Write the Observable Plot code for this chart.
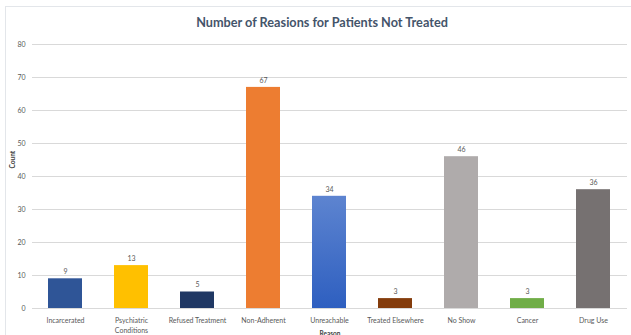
<!DOCTYPE html>
<html>
<head>
<meta charset="utf-8">
<script src="https://cdn.jsdelivr.net/npm/d3@7"></script>
<script src="https://cdn.jsdelivr.net/npm/@observablehq/plot@0.6"></script>
<style>
  body { margin: 0; background: #fff; }
  #wrap { position: relative; width: 631px; height: 335px; overflow: hidden; font-family: Lato, "Open Sans", sans-serif; }
  #border { position: absolute; left: 5px; top: 6px; width: 630px; height: 340px; border: 1px solid #e3e6ea; box-sizing: border-box; }
  #title { position: absolute; top: 14px; left: 0; width: 644px; text-align: center; font-size: 12.7px; font-weight: bold; color: #44546a; }
  #chart { position: absolute; left: 0; top: 0; }
</style>
</head>
<body>
<div id="wrap">
  <div id="border"></div>
  <div id="title">Number of Reasions for Patients Not Treated</div>
  <div id="chart"></div>
</div>
<script>
const categories = ["Incarcerated", "Psychiatric Conditions", "Refused Treatment", "Non-Adherent", "Unreachable", "Treated Elsewhere", "No Show", "Cancer", "Drug Use"];
const tickLabels = ["Incarcerated", "Psychiatric\nConditions", "Refused Treatment", "Non-Adherent", "Unreachable", "Treated Elsewhere", "No Show", "Cancer", "Drug Use"];
const counts = [9, 13, 5, 67, 34, 3, 46, 3, 36];
const colors = ["#2f5597", "#ffc000", "#203864", "#ed7d31", "url(#unreachGrad)", "#843c0c", "#afabab", "#70ad47", "#767171"];
const yTicks = [0, 10, 20, 30, 40, 50, 60, 70, 80];

const data = categories.map((c, i) => ({reason: c, count: counts[i], color: colors[i]}));
const labelOf = new Map(categories.map((c, i) => [c, tickLabels[i]]));

const plot = Plot.plot({
  width: 631,
  height: 335,
  marginLeft: 32,
  marginRight: 4,
  marginTop: 44,
  marginBottom: 27,
  style: {fontFamily: "Lato, 'Open Sans', sans-serif", fontSize: "7px", color: "#595959", background: "transparent"},
  x: {domain: categories, paddingInner: 0.48, paddingOuter: 0.24, label: null},
  y: {domain: [0, 80], ticks: yTicks, label: null},
  marks: [
    Plot.gridY(yTicks, {stroke: "#d9d9d9", strokeOpacity: 1, strokeWidth: 1}),
    Plot.barY(data, {x: "reason", y: "count", fill: "color"}),
    Plot.text(data, {x: "reason", y: "count", text: d => String(d.count), dy: -7, fill: "#595959", fontSize: 7}),
    Plot.axisY({ticks: yTicks, tickSize: 0, tickPadding: 7, fill: "#595959", fontSize: 7, label: null}),
    Plot.axisX({tickSize: 0, tickPadding: 8, fill: "#595959", fontSize: 7, label: null, tickFormat: d => labelOf.get(d), lineHeight: 1.35}),
    Plot.text(["Count"], {frameAnchor: "left", dx: -20, dy: -8, rotate: -90, fontWeight: "bold", fontSize: 6.5, fill: "#404040"}),
    Plot.text(["Reason"], {frameAnchor: "bottom", dy: 27, fontWeight: "bold", fontSize: 6.5, fill: "#404040"})
  ]
});

const svg = d3.select(plot);
const defs = svg.insert("defs", ":first-child");
const grad = defs.append("linearGradient").attr("id", "unreachGrad").attr("x1", 0).attr("y1", 0).attr("x2", 0).attr("y2", 1);
grad.append("stop").attr("offset", "0%").attr("stop-color", "#5d84d0");
grad.append("stop").attr("offset", "100%").attr("stop-color", "#2e5fc0");

document.getElementById("chart").appendChild(plot);
</script>
</body>
</html>
